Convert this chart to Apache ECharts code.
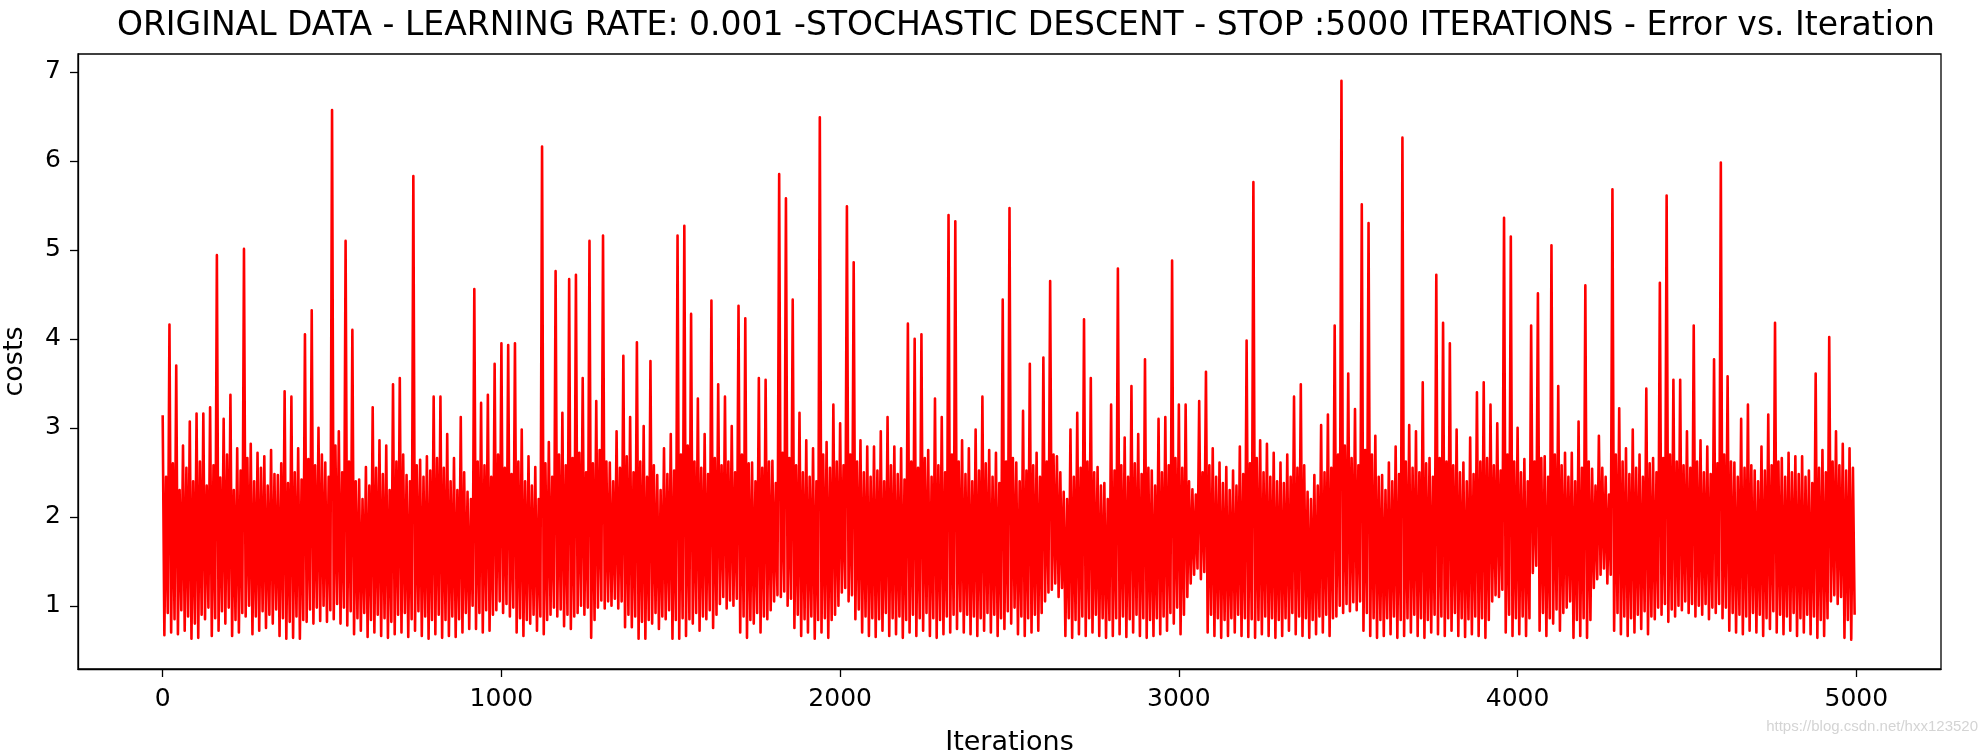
<!DOCTYPE html>
<html>
<head>
<meta charset="utf-8">
<script src="https://cdn.jsdelivr.net/npm/echarts@6/dist/echarts.min.js"></script>
<style>
html,body{margin:0;padding:0;background:#fff;}
#chart{width:1980px;height:756px;}
</style>
</head>
<body>
<div id="chart"></div>
<script>
// Bin width (iterations) for the sampled reading of the curve
const BIN = 20;
// Tallest cost read in each 20-iteration bin (iterations 0..4999)
const highs = [
 3.14,4.16,3.70,2.80,3.07,3.16,3.16,3.23,4.94,3.10, 3.37,2.77,5.01,2.82,2.72,2.68,2.75,2.47,3.41,3.35,
 2.77,4.05,4.32,3.00,2.61,6.57,2.96,5.10,4.10,2.42, 2.56,3.23,2.86,2.80,3.49,3.56,2.47,5.83,2.64,2.68,
 3.35,3.35,2.93,2.66,3.12,2.28,4.56,3.28,3.37,3.72,
 3.95,3.93,3.95,2.98,2.68,2.56,6.16,2.84,4.76,3.17, 4.67,4.72,3.56,5.10,3.30,5.16,2.61,2.96,3.81,3.12,
 3.96,3.02,3.75,2.47,2.77,2.93,5.16,5.27,4.28,3.33, 2.93,4.43,3.49,3.35,3.02,4.37,4.23,2.61,3.56,3.54,
 2.63,5.85,5.58,4.44,3.17,2.86,2.77,6.49,2.84,3.26,
 3.05,5.49,4.86,2.86,2.79,2.79,2.96,3.12,2.79,2.77, 4.17,4.00,4.05,2.75,3.33,3.12,5.39,5.32,2.86,2.77,
 2.98,3.35,2.75,2.72,4.44,5.47,2.61,3.19,3.72,2.72, 3.79,4.65,2.68,2.28,2.98,3.17,4.22,3.56,2.56,2.38,
 3.26,4.79,2.89,3.47,2.93,3.77,2.52,3.10,3.12,4.88,
 3.26,3.26,2.31,3.30,3.63,2.77,2.61,2.56,2.52,2.79, 3.98,5.76,2.86,2.82,2.72,2.61,2.70,3.35,3.49,2.28,
 2.47,3.03,3.15,4.15,6.90,3.61,3.21,5.51,5.30,2.91, 2.47,2.61,2.79,6.26,3.03,2.96,3.51,2.66,4.72,4.18,
 3.95,2.98,2.61,2.89,3.40,3.51,3.26,3.05,5.36,5.15,
 3.00,2.65,4.15,4.51,2.68,5.05,3.47,2.72,2.72,3.07, 4.60,2.54,2.91,2.45,5.68,3.22,2.77,2.98,2.70,3.44,
 2.66,4.63,5.61,3.54,3.54,2.96,4.15,2.86,2.79,3.77, 5.98,3.58,2.61,3.10,3.26,2.52,2.79,3.15,4.18,2.66,
 2.72,2.68,2.68,2.52,3.61,2.75,4.02,2.96,2.82,2.77
];
// Lowest cost read in each 20-iteration bin
const lows = [
 0.67,0.70,0.68,0.72,0.63,0.64,0.85,0.66,0.72,0.80, 0.66,0.70,0.88,0.68,0.72,0.75,0.80,0.66,0.63,0.64,
 0.63,0.82,0.80,0.83,0.82,0.85,0.80,0.78,0.68,0.72, 0.65,0.70,0.66,0.64,0.68,0.70,0.65,0.72,0.66,0.63,
 0.68,0.64,0.66,0.65,0.70,0.74,0.74,0.70,0.72,0.95,
 0.92,0.88,0.70,0.66,0.80,0.72,0.68,0.90,0.88,0.77, 0.74,0.92,0.90,0.64,0.98,0.97,1.00,0.97,0.76,0.76,
 0.63,0.63,0.80,0.74,0.85,0.63,0.63,0.66,0.80,0.72, 0.85,0.75,1.02,0.97,1.00,0.70,0.64,0.80,0.70,0.85,
 1.05,1.10,1.00,0.75,0.66,0.70,0.63,0.70,0.64,0.90,
 1.15,1.05,0.85,0.70,0.66,0.65,0.72,0.66,0.68,0.64, 0.70,0.66,0.72,0.66,0.64,0.68,0.70,0.74,0.70,0.68,
 0.66,0.72,0.70,0.66,0.74,0.80,0.68,0.66,0.70,0.72, 1.05,1.18,1.10,0.66,0.64,0.68,0.66,0.70,0.66,0.64,
 0.66,0.68,0.65,0.70,0.66,0.64,0.66,0.68,0.72,0.80,
 0.68,1.10,1.35,1.30,0.70,0.66,0.64,0.66,0.70,0.66, 0.65,0.64,0.68,0.66,0.64,0.66,0.72,0.68,0.66,0.64,
 0.68,0.70,0.66,0.88,0.92,0.94,0.95,0.72,0.66,0.64, 0.66,0.68,0.64,0.66,0.70,0.66,0.64,0.70,0.68,0.66,
 0.72,0.66,0.65,0.68,0.66,0.64,1.05,1.10,0.70,0.66,
 0.68,0.66,1.37,0.72,0.66,0.80,0.72,0.98,0.64,0.66, 0.64,1.20,1.35,1.25,0.72,0.68,0.66,0.70,0.74,0.68,
 0.85,0.90,0.82,0.88,0.95,0.92,0.88,0.90,0.85,0.92, 0.86,0.72,0.70,0.68,0.72,0.70,0.66,0.74,0.70,0.68,
 0.72,0.66,0.70,0.68,0.64,0.66,1.05,1.02,0.64,0.62
];
// Second (ordinary) peak in each bin: top of the dense band
const mids = [
 2.45,2.60,2.30,2.55,2.40,2.62,2.35,2.58,2.44,2.70, 2.30,2.52,2.66,2.40,2.55,2.35,2.48,2.60,2.38,2.50,
 2.42,2.65,2.58,2.70,2.45,2.80,2.50,2.62,2.40,2.20, 2.35,2.55,2.48,2.30,2.62,2.70,2.40,2.58,2.45,2.52,
 2.66,2.55,2.40,2.30,2.50,2.20,2.62,2.58,2.45,2.70,
 2.55,2.48,2.62,2.40,2.35,2.20,2.60,2.45,2.70,2.58, 2.66,2.72,2.50,2.60,2.75,2.62,2.40,2.55,2.68,2.50,
 2.62,2.45,2.58,2.30,2.48,2.52,2.70,2.80,2.62,2.55, 2.48,2.66,2.58,2.62,2.50,2.70,2.60,2.40,2.55,2.62,
 2.38,2.72,2.66,2.58,2.50,2.45,2.40,2.70,2.55,2.62,
 2.58,2.70,2.62,2.50,2.45,2.52,2.40,2.58,2.48,2.42, 2.62,2.55,2.66,2.45,2.58,2.50,2.70,2.62,2.48,2.40,
 2.52,2.60,2.45,2.38,2.62,2.66,2.40,2.52,2.58,2.45, 2.62,2.70,2.50,2.20,2.45,2.55,2.62,2.50,2.35,2.20,
 2.52,2.58,2.45,2.60,2.48,2.55,2.35,2.50,2.58,2.66,
 2.55,2.40,2.25,2.50,2.58,2.45,2.38,2.30,2.35,2.48, 2.60,2.66,2.50,2.45,2.40,2.38,2.45,2.55,2.58,2.20,
 2.35,2.50,2.55,2.70,2.80,2.66,2.58,2.75,2.70,2.45, 2.30,2.40,2.48,2.62,2.55,2.50,2.60,2.45,2.66,2.62,
 2.58,2.50,2.40,2.48,2.62,2.66,2.58,2.52,2.70,2.62,
 2.50,2.40,2.62,2.66,2.45,2.70,2.58,2.45,2.40,2.55, 2.62,2.35,2.55,2.25,2.70,2.62,2.48,2.55,2.45,2.60,
 2.50,2.66,2.70,2.62,2.58,2.55,2.62,2.50,2.48,2.60, 2.70,2.62,2.45,2.55,2.58,2.40,2.52,2.58,2.62,2.45,
 2.50,2.48,2.45,2.38,2.55,2.50,2.62,2.58,2.52,2.55
];
// Second (ordinary) dip in each bin: bottom of the dense band
const lows2 = [
 0.92,0.85,0.95,0.88,0.80,0.90,0.98,0.86,0.94,0.98, 0.84,0.92,1.00,0.88,0.94,0.90,0.96,0.86,0.82,0.88,
 0.84,0.96,0.98,1.00,0.95,1.02,0.98,0.94,0.86,0.92, 0.84,0.90,0.86,0.82,0.90,0.92,0.85,0.94,0.88,0.84,
 0.90,0.84,0.88,0.85,0.92,1.00,0.92,0.95,0.90,1.05,
 1.02,0.98,0.86,0.84,0.90,0.88,0.84,0.98,0.96,0.90, 0.88,1.00,0.98,0.84,1.06,1.05,1.08,1.05,0.90,0.88,
 0.82,0.84,0.92,0.88,0.95,0.84,0.86,0.85,0.92,0.88, 0.95,0.90,1.10,1.06,1.08,0.88,0.84,0.92,0.88,0.95,
 1.12,1.16,1.08,0.90,0.85,0.88,0.84,0.86,0.84,1.00,
 1.20,1.12,0.96,0.88,0.86,0.85,0.92,0.86,0.88,0.84, 0.90,0.86,0.92,0.86,0.84,0.88,0.90,0.94,0.90,0.88,
 0.86,0.92,0.90,0.86,0.94,0.98,0.88,0.86,0.90,0.92, 1.15,1.25,1.20,0.86,0.84,0.88,0.86,0.90,0.86,0.84,
 0.86,0.88,0.85,0.90,0.86,0.84,0.86,0.88,0.92,0.98,
 0.90,1.25,1.42,1.38,0.90,0.86,0.84,0.86,0.90,0.86, 0.85,0.84,0.88,0.86,0.84,0.86,0.92,0.88,0.86,0.84,
 0.88,0.90,0.86,1.00,1.02,1.04,1.05,0.92,0.86,0.84, 0.86,0.88,0.84,0.86,0.90,0.86,0.84,0.90,0.88,0.86,
 0.92,0.86,0.85,0.88,0.86,0.84,1.12,1.18,0.90,0.86,
 0.88,0.86,1.45,0.92,0.86,0.96,0.92,1.05,0.84,0.86, 0.84,1.30,1.42,1.35,0.92,0.88,0.86,0.90,0.94,0.88,
 0.98,1.02,0.96,1.00,1.05,1.02,1.00,1.02,0.98,1.02, 0.98,0.92,0.90,0.88,0.92,0.90,0.86,0.94,0.90,0.88,
 0.92,0.86,0.90,0.88,0.84,0.86,1.12,1.10,0.84,0.90
];
// Axis tick labels
const xTicks = [0, 1000, 2000, 3000, 4000, 5000];
const yTicks = [1, 2, 3, 4, 5, 6, 7];

// Each bin contributes its four readings in order: peak, dip, second peak, second dip
const seriesData = [];
for (let k = 0; k < highs.length; k++) {
  const x0 = k * BIN;
  seriesData.push([x0, highs[k]]);
  seriesData.push([x0 + 5, lows[k]]);
  seriesData.push([x0 + 10, mids[k]]);
  seriesData.push([x0 + 15, lows2[k]]);
}

const FONT = 'DejaVu Sans';
const chart = echarts.init(document.getElementById('chart'), null, {renderer: 'canvas'});
chart.setOption({
  animation: false,
  backgroundColor: '#fff',
  grid: {
    left: 78, right: 39, top: 54, bottom: 87,
    containLabel: false, outerBoundsMode: 'none',
    show: true, borderColor: '#000', borderWidth: 1.3, backgroundColor: 'transparent'
  },
  graphic: [
    {type: 'text', x: 1026, y: 26, style: {
      text: 'ORIGINAL DATA - LEARNING RATE: 0.001 -STOCHASTIC DESCENT - STOP :5000 ITERATIONS - Error vs. Iteration',
      fontFamily: FONT, fontSize: 33, fill: '#000', textAlign: 'center', textVerticalAlign: 'middle'}},
    {type: 'text', x: 1978, y: 727, style: {
      text: 'https://blog.csdn.net/hxx123520', fontFamily: 'Liberation Sans', fontSize: 15,
      fill: '#d4d4d4', textAlign: 'right', textVerticalAlign: 'middle'}}
  ],
  xAxis: {
    type: 'value', min: -250, max: 5250,
    name: 'Iterations', nameLocation: 'middle', nameGap: 60,
    nameTextStyle: {fontFamily: FONT, fontSize: 27, color: '#000'},
    axisLine: {show: true, onZero: false, lineStyle: {color: '#000', width: 1.3}},
    axisTick: {show: true, length: 8, customValues: xTicks, lineStyle: {color: '#000', width: 1.3}},
    axisLabel: {customValues: xTicks, formatter: v => String(v), fontFamily: FONT, fontSize: 25, color: '#000', margin: 18},
    splitLine: {show: false}
  },
  yAxis: {
    type: 'value', min: 0.29, max: 7.2,
    name: 'costs', nameLocation: 'middle', nameGap: 50,
    nameTextStyle: {fontFamily: FONT, fontSize: 27, color: '#000'},
    axisLine: {show: true, onZero: false, lineStyle: {color: '#000', width: 1.3}},
    axisTick: {show: true, length: 8, customValues: yTicks, lineStyle: {color: '#000', width: 1.3}},
    axisLabel: {customValues: yTicks, formatter: v => String(v), fontFamily: FONT, fontSize: 25, color: '#000', margin: 17},
    splitLine: {show: false}
  },
  series: [{
    type: 'line',
    data: seriesData,
    showSymbol: false,
    symbol: 'none',
    lineStyle: {color: '#ff0000', width: 2.6, join: 'round'},
    emphasis: {disabled: true}
  }]
});
</script>
</body>
</html>
